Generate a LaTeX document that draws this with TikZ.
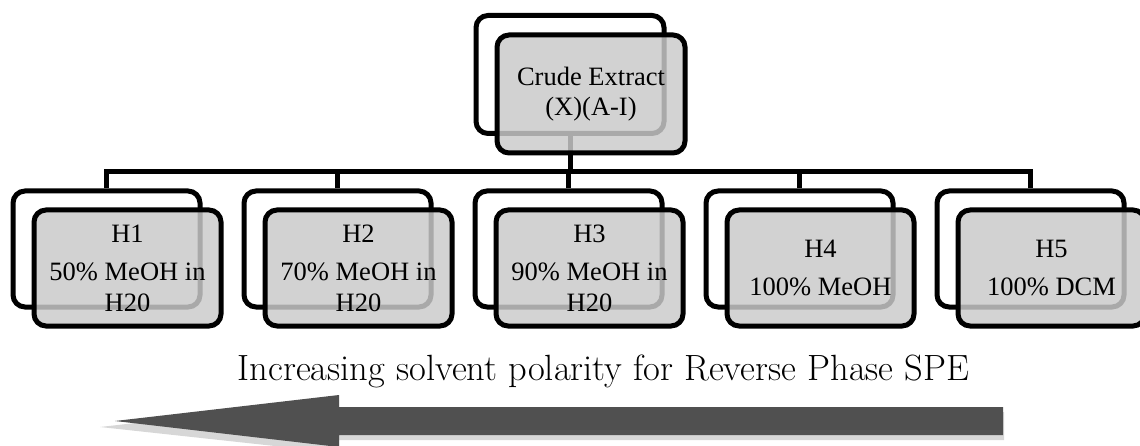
\documentclass[tikz,border=0pt]{standalone}
\usepackage{fontspec}
\newfontfamily\boxfont{Liberation Serif}
\definecolor{frontfill}{RGB}{202,202,202}
\definecolor{arrowdark}{RGB}{80,80,80}
\definecolor{arrowshadow}{RGB}{215,215,215}
\tikzset{
  backbox/.style={draw=black, line width=5pt, rounded corners=12pt, fill=white,
    minimum width=188pt, minimum height=118pt, inner sep=0pt},
  frontbox/.style={draw=black, line width=5pt, rounded corners=12pt, fill=frontfill,
    fill opacity=0.84, text opacity=1, minimum width=188pt, minimum height=118pt,
    inner sep=0pt, align=center, font=\boxfont\fontsize{26.5}{30.5}\selectfont},
  conn/.style={draw=black, line width=5pt},
}
\begin{document}
\begin{tikzpicture}[x=1pt,y=-1pt]
\useasboundingbox (0,0) rectangle (1140,446);
% back frames
\node[backbox] (tb) at (570,74.5) {};
\foreach \i in {1,...,5} {
  \node[backbox, minimum width=187pt, minimum height=116pt] (b\i) at ({106.5+231*(\i-1)},249) {};
}
% connectors
\coordinate (bus) at (570,172);
\draw[conn] (tb.south) -- (bus);
\draw[conn] (b1.north) |- (bus);
\draw[conn] (b5.north) |- (bus);
\foreach \i in {2,3,4} {
  \draw[conn] (b\i.north) -- (b\i.north |- bus);
}
% front boxes
\node[frontbox] (tf) at (591,94) {Crude Extract\\(X)(A-I)};
\node[frontbox, minimum width=187pt, minimum height=116pt] (f1) at (127.5,268) {H1\\[8pt]50\% MeOH in\\H20};
\node[frontbox, minimum width=187pt, minimum height=116pt] (f2) at (358.5,268) {H2\\[8pt]70\% MeOH in\\H20};
\node[frontbox, minimum width=187pt, minimum height=116pt] (f3) at (589.5,268) {H3\\[8pt]90\% MeOH in\\H20};
\node[frontbox, minimum width=187pt, minimum height=116pt] (f4) at (820.5,268) {H4\\[8pt]100\% MeOH};
\node[frontbox, minimum width=187pt, minimum height=116pt] (f5) at (1051.5,268) {H5\\[8pt]100\% DCM};
% caption
\node[anchor=base, inner sep=0pt, font=\fontsize{36.5}{42}\selectfont] (cap) at (603.5,380)
  {Increasing solvent polarity for Reverse Phase SPE};
% arrow with shadow
\fill[arrowshadow] (100,427) -- (339,400) -- (339,412) -- (1004,412) -- (1004,440)
  -- (339,440) -- (339,453) -- cycle;
\fill[arrowdark] (115,421) -- (339,395) -- (339,407) -- (1003,407) -- (1003,435)
  -- (339,435) -- (339,447) -- cycle;
\end{tikzpicture}
\end{document}
